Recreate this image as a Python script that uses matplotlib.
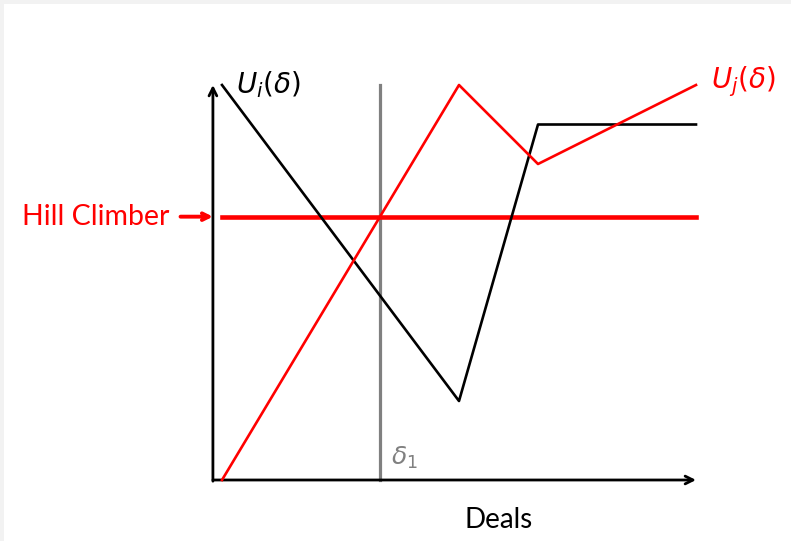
import matplotlib.pyplot as plt

plt.rcParams['font.family'] = ['Lato', 'DejaVu Sans']
plt.rcParams['mathtext.fontset'] = 'dejavusans'

# deals on x, utility on y
deals = [0, 6, 8, 12]
u_i = [10, 2, 9, 9]
u_j = [0, 10, 8, 10]
delta_1 = 4
hill_climber = 10 * delta_1 / 6  # value of U_j at delta_1

X_MAX = 12
Y_MAX = 10
AXIS_X = -0.23

fig = plt.figure(figsize=(7.91, 5.41), dpi=100)
fig.patch.set_facecolor('#f2f2f2')
ax = fig.add_axes([4 / 791, 0, 1 - 4 / 791, 1 - 4 / 541])
ax.set_facecolor('white')

# map pixel layout to data units (1 unit ~ 39.5 px)
unit = 39.5
x0_px, y0_px = 222, 480
ax.set_xlim((4 - x0_px) / unit, (791 - x0_px) / unit)
ax.set_ylim((y0_px - 541) / unit, (y0_px - 4) / unit)
ax.set_xticks([])
ax.set_yticks([])
for s in ax.spines.values():
    s.set_visible(False)

# axes with arrows
ax.annotate('', xy=(X_MAX, 0), xytext=(AXIS_X, 0),
            arrowprops=dict(arrowstyle='->', color='black', lw=2.0,
                            shrinkA=0, shrinkB=0, mutation_scale=14))
ax.annotate('', xy=(AXIS_X, Y_MAX), xytext=(AXIS_X, -0.03),
            arrowprops=dict(arrowstyle='->', color='black', lw=2.0,
                            shrinkA=0, shrinkB=0, mutation_scale=14))

# delta_1 marker
ax.plot([delta_1, delta_1], [0, Y_MAX], color='#808080', lw=2.3, zorder=1)
ax.text(delta_1 + 0.27, 0.55, r'$\delta_1$', color='#808080', fontsize=18,
        va='center', ha='left')

# hill climber level
ax.plot([0, X_MAX], [hill_climber, hill_climber], color='red', lw=3.3, zorder=2)
ax.annotate('', xy=(AXIS_X, hill_climber), xytext=(AXIS_X - 0.82, hill_climber),
            arrowprops=dict(arrowstyle='->', color='red', lw=2.8,
                            shrinkA=0, shrinkB=0, mutation_scale=12))
ax.text(AXIS_X - 1.1, hill_climber, 'Hill Climber', color='red', fontsize=20.5,
        ha='right', va='center')

# utility curves
ax.plot(deals, u_i, color='black', lw=1.9, zorder=3)
ax.plot(deals, u_j, color='red', lw=1.9, zorder=3)
ax.text(0.35, Y_MAX + 0.0, r'$U_i(\delta)$', color='black', fontsize=20,
        ha='left', va='center')
ax.text(X_MAX + 0.38, Y_MAX + 0.08, r'$U_j(\delta)$', color='red', fontsize=20,
        ha='left', va='center')

ax.text(7.0, -1.0, 'Deals', color='black', fontsize=20, ha='center', va='center')

fig.savefig('out.png', dpi=100, facecolor=fig.get_facecolor())
